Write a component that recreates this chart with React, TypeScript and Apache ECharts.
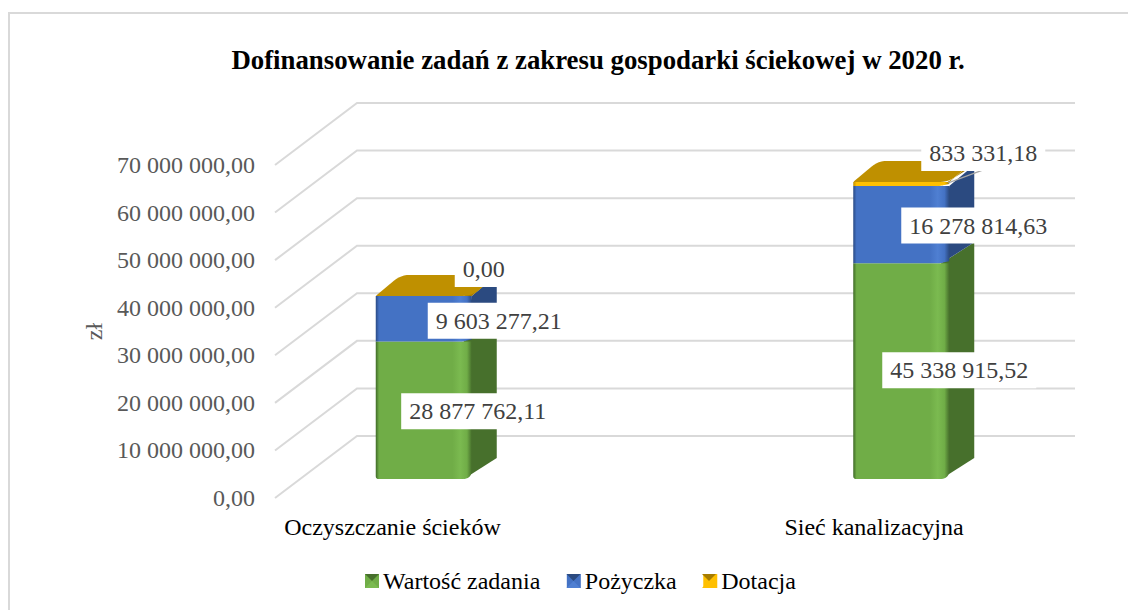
import React, { useEffect, useRef } from "react";
import * as echarts from "echarts";

const categories = ["Oczyszczanie ścieków", "Sieć kanalizacyjna"];
const seriesNames = ["Wartość zadania", "Pożyczka", "Dotacja"];
const wartoscZadania = [28877762.11, 45338915.52];
const pozyczka = [9603277.21, 16278814.63];
const dotacja = [0.0, 833331.18];
const yTicks = [0, 10000000, 20000000, 30000000, 40000000, 50000000, 60000000, 70000000];
const title = "Dofinansowanie zadań z zakresu gospodarki ściekowej w 2020 r.";
const yName = "zł";

// label placement relative to the segment centre, [dx, dy] per series then category
const labelOffsets = [
  [[54, 1], [58, -1]],
  [[75, 2], [77, 1]],
  [[60, -27], [82, -31]],
];

const FONT = '"Liberation Serif"';
const PLANE_LEFT = 275;
const BACK_DX = 82;
const BACK_DY = 62;
const BACK_RIGHT = 1075;
const BAR_DX = 24;
const BAR_DY = 19;
const BAR_HALF = 48;
const SIDE_DX = 25;
const SIDE_DY = 21;

const palette = [
  { main: "#70ad47", edge: "#3f6a27", light: "#7bba50", side: "#47702c", top: "#70ad47" },
  { main: "#4472c4", edge: "#2a4a85", light: "#4f7fd2", side: "#2b4a80", top: "#4472c4" },
  { main: "#ffc000", edge: "#bf9000", light: "#ffc000", side: "#a67c00", top: "#bf9000" },
];

function fmt(v: number) {
  const [i, d] = v.toFixed(2).split(".");
  return i.replace(/\B(?=(\d{3})+(?!\d))/g, " ") + "," + d;
}

function rounded(pts: number[][], radii: number[]) {
  const out: number[][] = [];
  const n = pts.length;
  for (let i = 0; i < n; i++) {
    const p = pts[i];
    const r = radii[i];
    if (!r) {
      out.push(p);
      continue;
    }
    const a = pts[(i + n - 1) % n];
    const b = pts[(i + 1) % n];
    const la = Math.hypot(a[0] - p[0], a[1] - p[1]) || 1;
    const lb = Math.hypot(b[0] - p[0], b[1] - p[1]) || 1;
    const ra = Math.min(r, la / 2);
    const rb = Math.min(r, lb / 2);
    const s = [p[0] + ((a[0] - p[0]) / la) * ra, p[1] + ((a[1] - p[1]) / la) * ra];
    const e = [p[0] + ((b[0] - p[0]) / lb) * rb, p[1] + ((b[1] - p[1]) / lb) * rb];
    for (let k = 0; k <= 6; k++) {
      const t = k / 6;
      const u = 1 - t;
      out.push([
        u * u * s[0] + 2 * u * t * p[0] + t * t * e[0],
        u * u * s[1] + 2 * u * t * p[1] + t * t * e[1],
      ]);
    }
  }
  return out;
}

const stacks = [wartoscZadania, pozyczka, dotacja];
function rows(si: number) {
  return categories.map((_, c) => {
    let base = 0;
    for (let k = 0; k < si; k++) base += stacks[k][c];
    return [c, base, base + stacks[si][c]];
  });
}

function barSeries(si: number) {
  const col = palette[si];
  return {
    type: "custom",
    name: seriesNames[si],
    xAxisIndex: 0,
    yAxisIndex: 0,
    z: 3 + si,
    clip: false,
    silent: true,
    encode: { x: 0, y: [1, 2] },
    data: rows(si),
    itemStyle: { color: col.main },
    renderItem: (_: any, api: any) => {
      const c = api.value(0);
      const cx = api.coord([c, 0])[0] + BAR_DX;
      const yb = api.coord([c, api.value(1)])[1] - BAR_DY;
      const yt = api.coord([c, api.value(2)])[1] - BAR_DY;
      const l = cx - BAR_HALF;
      const r = cx + BAR_HALF;
      const isBase = si === 0;
      const isTop = si === stacks.length - 1;
      const children: any[] = [];
      children.push({
        type: "polygon",
        shape: { points: [[r - (isBase ? 8 : 0), yt], [r + SIDE_DX, yt - SIDE_DY], [r + SIDE_DX, yb - SIDE_DY], [r - 8, yb]] },
        style: { fill: col.side },
      });
      if (yb - yt > 0.1) {
        const grad = new echarts.graphic.LinearGradient(0, 0, 1, 0, [
          { offset: 0, color: col.edge },
          { offset: 0.035, color: col.main },
          { offset: 0.8, color: col.main },
          { offset: 0.88, color: col.light },
          { offset: 0.95, color: col.main },
          { offset: 1, color: col.side },
        ]);
        const front = isBase
          ? rounded([[l, yt], [r, yt], [r, yb], [l, yb]], [0, 0, 9, 3])
          : [[l, yt], [r, yt], [r, yb - 2], [r - 10, yb], [l, yb]];
        children.push({ type: "polygon", shape: { points: front }, style: { fill: grad } });
      }
      if (isTop) {
        children.push({
          type: "polygon",
          shape: {
            points: rounded(
              [[l, yt], [l + SIDE_DX, yt - SIDE_DY], [r + SIDE_DX, yt - SIDE_DY], [r, yt]],
              [1, 9, 1, 9]
            ),
          },
          style: { fill: col.top },
        });
      }
      return { type: "group", children };
    },
  };
}

const gridSeries = {
  type: "custom",
  xAxisIndex: 0,
  yAxisIndex: 0,
  z: 1,
  clip: false,
  silent: true,
  encode: { y: 0 },
  data: yTicks.map((v) => [v]),
  renderItem: (_: any, api: any) => {
    const y = api.coord([0, api.value(0)])[1];
    return {
      type: "polyline",
      shape: {
        points: [
          [PLANE_LEFT, y],
          [PLANE_LEFT + BACK_DX, y - BACK_DY],
          [BACK_RIGHT, y - BACK_DY],
        ],
      },
      style: { stroke: "#d9d9d9", lineWidth: 2, fill: "none" },
    };
  },
};

const labelRows: number[][] = [];
stacks.forEach((_, si) => rows(si).forEach((r) => labelRows.push([r[0], r[1], r[2], si])));

const labelSeries = {
  type: "custom",
  xAxisIndex: 0,
  yAxisIndex: 0,
  z: 10,
  clip: false,
  silent: true,
  encode: { x: 0, y: [1, 2] },
  data: labelRows,
  renderItem: (_: any, api: any) => {
    const c = api.value(0);
    const base = api.value(1);
    const top = api.value(2);
    const si = api.value(3);
    const cx = api.coord([c, 0])[0] + BAR_DX;
    const yb = api.coord([c, base])[1] - BAR_DY;
    const yt = api.coord([c, top])[1] - BAR_DY;
    const [dx, dy] = labelOffsets[si][c];
    const x = cx + dx;
    const y = (yb + yt) / 2 + dy;
    const children: any[] = [];
    if (si === 2 && top - base > 0) {
      children.push({
        type: "line",
        shape: { x1: cx + BAR_HALF - 1, y1: yt + 1, x2: x, y2: y + 17 },
        style: { stroke: "#a6a6a6", lineWidth: 1.2 },
      });
    }
    children.push({
      type: "text",
      style: {
        text: fmt(top - base),
        x,
        y,
        align: "center",
        verticalAlign: "middle",
        fontFamily: FONT,
        fontSize: 24,
        fill: "#404040",
        backgroundColor: "#ffffff",
        padding: [6, 8, 6, 8],
      },
    });
    return { type: "group", children };
  },
};

function legendBevel(x: number, y: number, dark: string, light: string) {
  const s = 14;
  const m = [x + s / 2, y + s / 2];
  return [
    { type: "polygon", silent: true, z: 20, shape: { points: [[x, y], [x + s, y], m] }, style: { fill: dark } },
    { type: "polygon", silent: true, z: 20, shape: { points: [[x, y + s], [x + s, y + s], m] }, style: { fill: light } },
  ];
}

export default function App() {
  const ref = useRef<HTMLDivElement>(null);
  useEffect(() => {
    const chart = echarts.init(ref.current!, undefined, { renderer: "svg" });
    chart.setOption({
      animation: false,
      backgroundColor: "#ffffff",
      title: {
        text: title,
        left: 593,
        top: 41,
        textAlign: "center",
        textStyle: { fontFamily: FONT, fontWeight: "bold", fontSize: 26.8, color: "#000000" },
      },
      grid: [
        { left: 161, width: 955, top: 165, height: 333 },
        { left: 151.75, width: 963, top: 165, height: 333 },
      ],
      xAxis: [
        { type: "category", gridIndex: 0, data: categories, show: false },
        {
          type: "category",
          gridIndex: 1,
          data: categories,
          axisLine: { show: false },
          axisTick: { show: false },
          axisLabel: { interval: 0, margin: 17, fontFamily: FONT, fontSize: 24, color: "#000000" },
        },
      ],
      yAxis: [
        {
          type: "value",
          gridIndex: 0,
          min: 0,
          max: 70000000,
          interval: 10000000,
          offset: -(PLANE_LEFT - 161),
          axisLine: { show: false },
          axisTick: { show: false },
          splitLine: { show: false },
          axisLabel: { margin: 20, fontFamily: FONT, fontSize: 24, color: "#595959", formatter: (v: number) => fmt(v) },
          name: yName,
          nameLocation: "middle",
          nameGap: 169,
          nameRotate: 90,
          nameTextStyle: { fontFamily: FONT, fontSize: 24, color: "#595959" },
        },
        { type: "value", gridIndex: 1, min: 0, max: 70000000, show: false },
      ],
      legend: {
        left: 360,
        top: 564,
        itemWidth: 14,
        itemHeight: 14,
        itemGap: 26.5,
        icon: "rect",
        selectedMode: false,
        data: seriesNames,
        textStyle: { fontFamily: FONT, fontSize: 24, color: "#000000", padding: [0, 0, 0, -1] },
      },
      graphic: [
        { type: "line", silent: true, shape: { x1: 9, y1: 13, x2: 9, y2: 610 }, style: { stroke: "#d9d9d9", lineWidth: 2 } },
        { type: "line", silent: true, shape: { x1: 8, y1: 13, x2: 1128, y2: 13 }, style: { stroke: "#d9d9d9", lineWidth: 2 } },
        ...legendBevel(365, 574, "#47702c", "#7bba50"),
        ...legendBevel(566.5, 574, "#2b4a80", "#4f7fd2"),
        ...legendBevel(702, 574, "#a67c00", "#ffc000"),
      ],
      series: [gridSeries, barSeries(0), barSeries(1), barSeries(2), labelSeries],
    });
    return () => chart.dispose();
  }, []);
  return <div ref={ref} style={{ position: "absolute", left: 0, top: 0, width: 1128, height: 610 }} />;
}
